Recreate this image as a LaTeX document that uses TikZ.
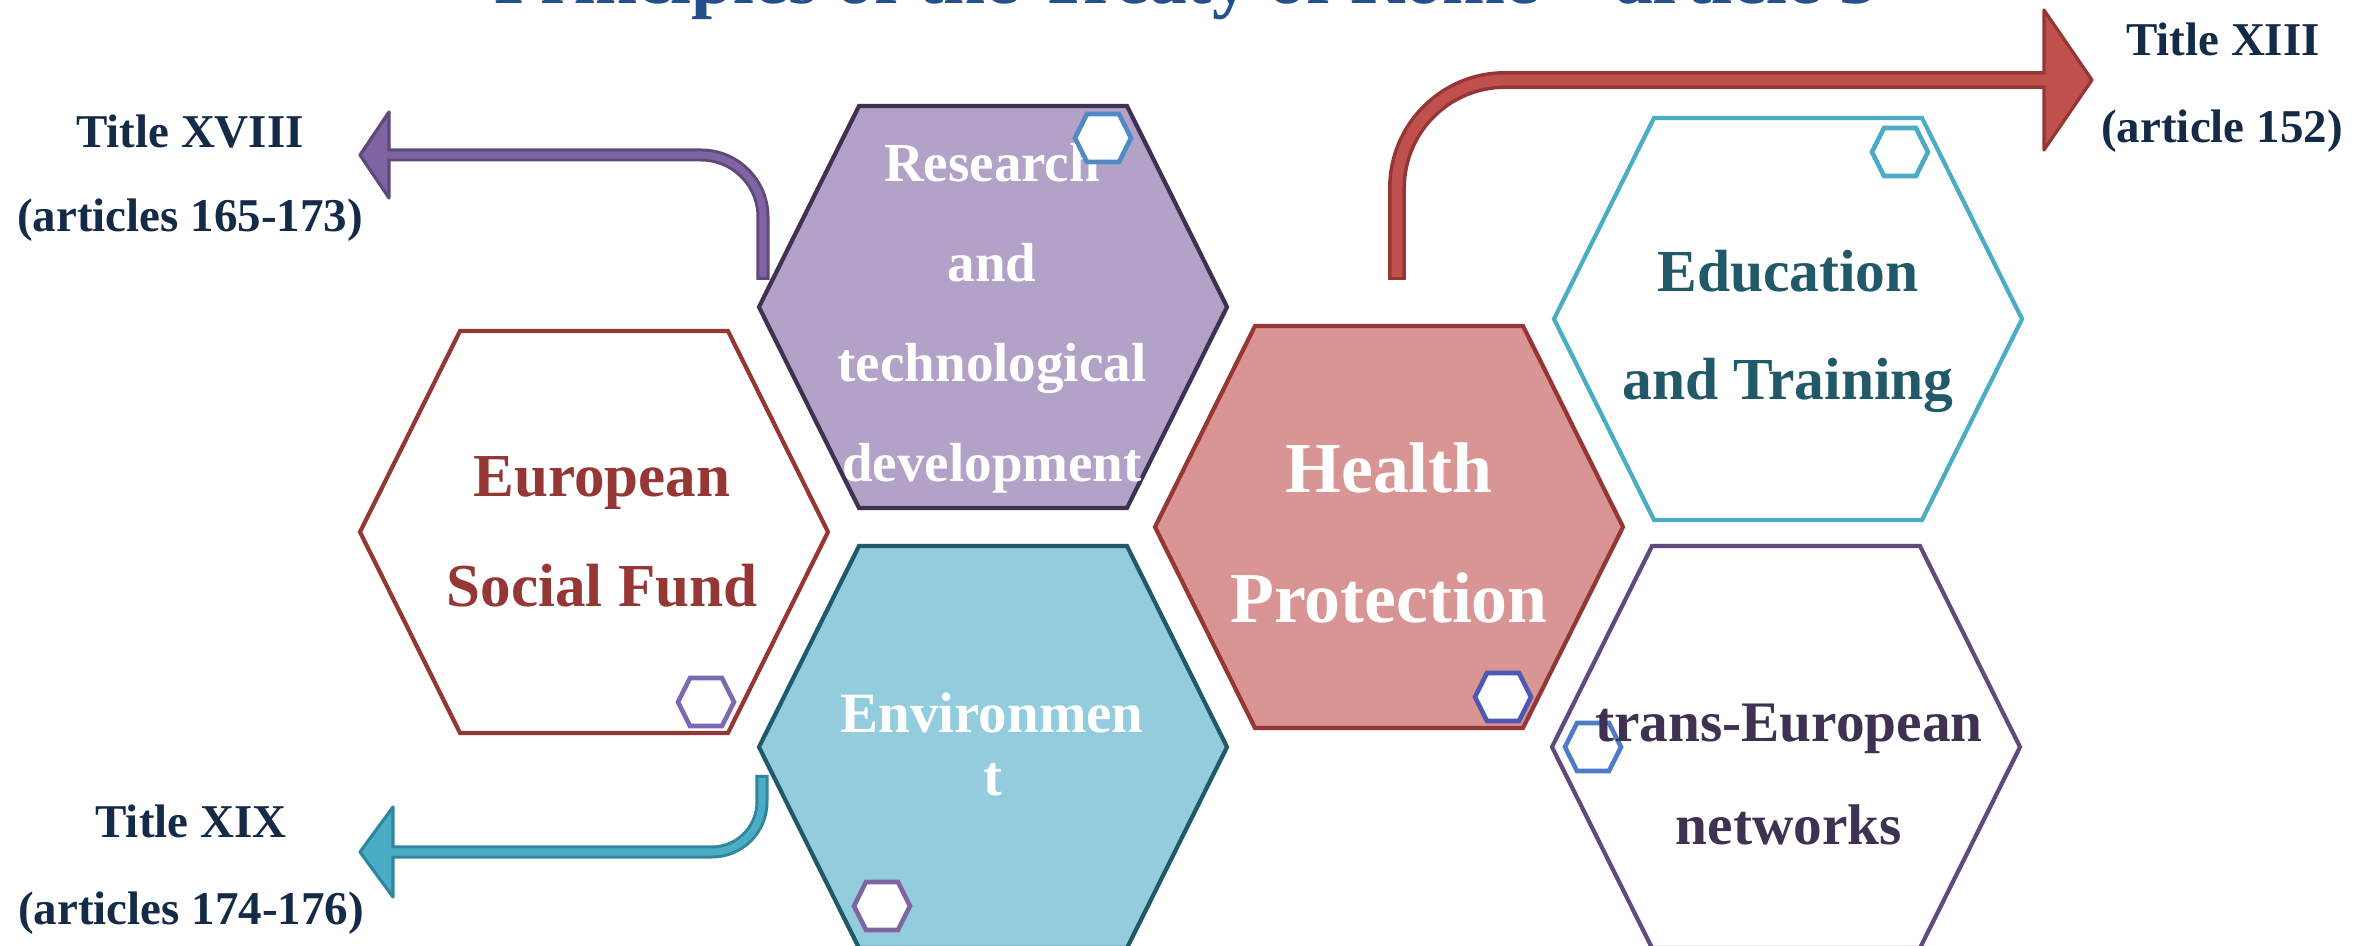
\documentclass[tikz,border=0pt]{standalone}
\usepackage{fontspec}
\setmainfont{Liberation Serif}
\usetikzlibrary{calc}
\definecolor{esfRed}{HTML}{953735}
\definecolor{rtdFill}{HTML}{B3A2C7}
\definecolor{rtdLine}{HTML}{3F3151}
\definecolor{envFill}{HTML}{93CDDD}
\definecolor{envLine}{HTML}{215968}
\definecolor{hpFill}{HTML}{D99594}
\definecolor{hpLine}{HTML}{953735}
\definecolor{eduLine}{HTML}{4BACC6}
\definecolor{eduText}{HTML}{215968}
\definecolor{tenLine}{HTML}{604A7B}
\definecolor{tenText}{HTML}{3F3151}
\definecolor{labelNavy}{HTML}{132B47}
\definecolor{titleBlue}{HTML}{254F8A}
\definecolor{smBlue}{HTML}{4F8AC4}
\definecolor{smPurple}{HTML}{7A68B4}
\definecolor{smViolet}{HTML}{8064A2}
\definecolor{smIndigo}{HTML}{4D57B5}
\definecolor{smTeal}{HTML}{4BACC6}
\definecolor{smSteel}{HTML}{4F7AC7}
\definecolor{arRedFill}{HTML}{C0504D}
\definecolor{arRedLine}{HTML}{943634}
\definecolor{arPurFill}{HTML}{8064A2}
\definecolor{arPurLine}{HTML}{5F497A}
\definecolor{arCyFill}{HTML}{4BACC6}
\definecolor{arCyLine}{HTML}{31859C}
\newcommand\fsz[1]{\fontsize{#1pt}{#1pt}\selectfont}
\newcommand\bighex[2]{%
  \path[#1] ($(#2)+(-234,0)$) -- ($(#2)+(-134,-201)$) -- ($(#2)+(134,-201)$) --
  ($(#2)+(234,0)$) -- ($(#2)+(134,201)$) -- ($(#2)+(-134,201)$) -- cycle;}
\newcommand\smallhex[2]{%
  \path[#1] ($(#2)+(-28,0)$) -- ($(#2)+(-16,-24)$) -- ($(#2)+(16,-24)$) --
  ($(#2)+(28,0)$) -- ($(#2)+(16,24)$) -- ($(#2)+(-16,24)$) -- cycle;}
\tikzset{
  hexline/.style={line width=1.2pt, line join=miter},
  smline/.style={line width=1.3pt, fill=white, line join=miter},
  txt/.style={anchor=base, inner sep=0pt, font=\bfseries},
  headstyle/.style={line width=0.9pt, line join=round},
}
\begin{document}
\begin{tikzpicture}[x=0.01cm, y=-0.01cm]
\fill[white] (0,0) rectangle (2374,946);
\useasboundingbox (0,0) rectangle (2374,946);

% title (cut off at the top)
\node[txt, text=titleBlue, font=\bfseries\fsz{21.5}] (title) at (1186,4) {Principles of the Treaty of Rome – article 3};

% hexagon centres
\coordinate (esf) at (594,532);
\coordinate (rtd) at (993,307);
\coordinate (env) at (993,747);
\coordinate (hp)  at (1389,527);
\coordinate (edu) at (1788,319);
\coordinate (ten) at (1786,747);

% arrow end points
\coordinate (a1s) at ($(rtd)+(-230,-27)$);
\coordinate (a1b) at (389,155);
\coordinate (a1t) at (360,155);
\coordinate (a2s) at ($(env)+(-231,28)$);
\coordinate (a2b) at (393,852);
\coordinate (a2t) at (360,852);
\coordinate (a3s) at ($(hp)+(8,-247)$);
\coordinate (a3b) at (2044,80);
\coordinate (a3t) at (2092,80);

% purple arrow
\draw[arPurLine, line width=3.7pt, rounded corners=0.62cm] (a1s) |- (a1b);
\filldraw[fill=arPurFill, draw=arPurLine, headstyle] ($(a1b)+(0,-43)$) -- (a1t) -- ($(a1b)+(0,43)$) -- cycle;
\draw[arPurFill, line width=2.0pt, rounded corners=0.62cm] ($(a1s)+(0,-3)$) |- ($(a1b)+(-4,0)$);

% cyan arrow
\draw[arCyLine, line width=3.7pt, rounded corners=0.5cm] (a2s) |- (a2b);
\filldraw[fill=arCyFill, draw=arCyLine, headstyle] ($(a2b)+(0,-45)$) -- (a2t) -- ($(a2b)+(0,45)$) -- cycle;
\draw[arCyFill, line width=2.0pt, rounded corners=0.5cm] ($(a2s)+(0,3)$) |- ($(a2b)+(-4,0)$);

% red arrow
\draw[arRedLine, line width=5.1pt, rounded corners=1.08cm] (a3s) |- (a3b);
\filldraw[fill=arRedFill, draw=arRedLine, headstyle] ($(a3b)+(0,-70)$) -- (a3t) -- ($(a3b)+(0,70)$) -- cycle;
\draw[arRedFill, line width=3.1pt, rounded corners=1.08cm] ($(a3s)+(0,-3)$) |- ($(a3b)+(4,0)$);

% big hexagons
\bighex{draw=esfRed, fill=white, hexline}{esf}
\bighex{draw=rtdLine, fill=rtdFill, hexline}{rtd}
\bighex{draw=envLine, fill=envFill, hexline}{env}
\bighex{draw=hpLine, fill=hpFill, hexline}{hp}
\bighex{draw=eduLine, fill=white, hexline}{edu}
\bighex{draw=tenLine, fill=white, hexline}{ten}

% small hexagons (below texts)
\coordinate (esfs) at (706,702);
\coordinate (envs) at (882,906);
\coordinate (hps)  at (1503,697);
\coordinate (edus) at (1900,152);
\coordinate (tens) at (1593,747);
\coordinate (rtds) at (1103,138);
\smallhex{draw=smPurple, smline}{esfs}
\smallhex{draw=smViolet, smline}{envs}
\smallhex{draw=smIndigo, smline}{hps}
\smallhex{draw=smTeal, smline}{edus}
\smallhex{draw=smSteel, line width=1.3pt}{tens}

% hexagon texts
\node[txt, text=esfRed, font=\bfseries\fsz{17.36}] (esf1) at (602,497) {European};
\node[txt, text=esfRed, font=\bfseries\fsz{17.36}] (esf2) at (602,607) {Social Fund};

\node[txt, text=white, font=\bfseries\fsz{15.65}] (rtd1) at (992,182) {Research};
\node[txt, text=white, font=\bfseries\fsz{15.65}] (rtd2) at (992,282) {and};
\node[txt, text=white, font=\bfseries\fsz{15.65}] (rtd3) at (992,382) {technological};
\node[txt, text=white, font=\bfseries\fsz{15.65}] (rtd4) at (992,482) {development};

\node[txt, text=white, font=\bfseries\fsz{16.2}] (env1) at (992,733) {Environmen};
\node[txt, text=white, font=\bfseries\fsz{16.2}] (env2) at (993,796) {t};

\node[txt, text=white, font=\bfseries\fsz{20.4}] (hp1) at (1389,493) {Health};
\node[txt, text=white, font=\bfseries\fsz{20.4}] (hp2) at (1389,623) {Protection};

\node[txt, text=eduText, font=\bfseries\fsz{16.93}] (edu1) at (1788,292) {Education};
\node[txt, text=eduText, font=\bfseries\fsz{16.93}] (edu2) at (1788,400) {and Training};

\node[txt, text=tenText, font=\bfseries\fsz{16.3}] (ten1) at (1789,742) {trans-European};
\node[txt, text=tenText, font=\bfseries\fsz{16.3}] (ten2) at (1789,845) {networks};

% small hexagon above the research text
\smallhex{draw=smBlue, smline}{rtds}

% labels
\node[txt, text=labelNavy, font=\bfseries\fsz{13.37}] (l18a) at (190,148) {Title XVIII};
\node[txt, text=labelNavy, font=\bfseries\fsz{13.37}] (l18b) at (190,232) {(articles 165-173)};
\node[txt, text=labelNavy, font=\bfseries\fsz{13.37}] (l19a) at (191,838) {Title XIX};
\node[txt, text=labelNavy, font=\bfseries\fsz{13.37}] (l19b) at (191,925) {(articles 174-176)};
\node[txt, text=labelNavy, font=\bfseries\fsz{13.37}] (l13a) at (2223,56) {Title XIII};
\node[txt, text=labelNavy, font=\bfseries\fsz{13.37}] (l13b) at (2222,143) {(article 152)};
\end{tikzpicture}
\end{document}
